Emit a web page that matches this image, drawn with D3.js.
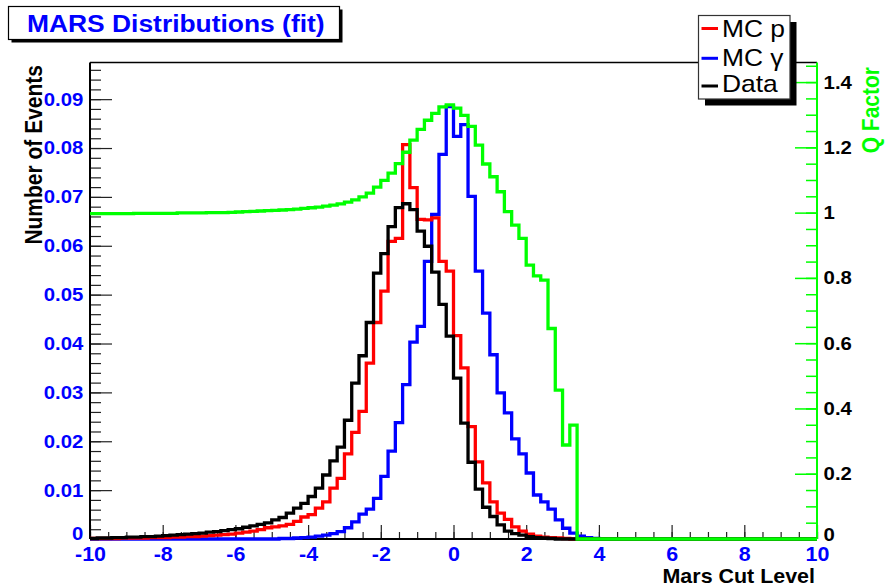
<!DOCTYPE html>
<html><head><meta charset="utf-8">
<script src="https://cdn.jsdelivr.net/npm/d3@7"></script>
<style>
body{margin:0;background:#fff}
svg{display:block}
text{font-family:"Liberation Sans",Arial,Helvetica,sans-serif}
</style>
</head><body>
<svg id="chart" width="886" height="588"></svg>
<script>
// ---------------- data ----------------
const binStart = -10, binWidth = 0.2, nBins = 100;

const mcP = [
0.0001,0.0001,0.0001,0.0001,0.0002,0.0002,0.0002,0.0002,0.0003,0.0003,
0.0003,0.0004,0.0004,0.0005,0.0005,0.0006,0.0007,0.0008,0.0009,0.0010,
0.0012,0.0014,0.0016,0.0019,0.0023,0.0025,0.0027,0.0030,0.0036,0.0045,
0.0050,0.0063,0.0076,0.0104,0.0124,0.0174,0.0218,0.0261,0.0360,0.0443,
0.0507,0.0609,0.0615,0.0807,0.0719,0.0654,0.0653,0.0657,0.0568,0.0548,
0.0416,0.0350,0.0230,0.0158,0.0115,0.0076,0.0053,0.0040,0.0025,0.0016,
0.0010,0.0006,0.0004,0.0003,0.0002,0.0001,0,0,0,0,
0,0,0,0,0,0,0,0,0,0,
0,0,0,0,0,0,0,0,0,0,
0,0,0,0,0,0,0,0,0,0];

const mcGamma = [
0,0,0,0,0,0,0,0,0,0,
0,0,0,0,0,0,0,0,0,0,
0,0,0,0,0,0,0.0001,0.0001,0.0002,0.0003,
0.0004,0.0006,0.0008,0.0011,0.0015,0.0023,0.0035,0.0051,0.0061,0.0083,
0.0128,0.0180,0.0238,0.0316,0.0403,0.0435,0.0568,0.0664,0.0787,0.0885,
0.0824,0.0848,0.0701,0.0548,0.0462,0.0377,0.0299,0.0258,0.0205,0.0174,
0.0135,0.0090,0.0076,0.0061,0.0039,0.0022,0.0012,0.0006,0.0003,0.0001,
0,0,0,0,0,0,0,0,0,0,
0,0,0,0,0,0,0,0,0,0,
0,0,0,0,0,0,0,0,0,0];

const dataEvents = [
0.0001,0.0002,0.0002,0.0003,0.0003,0.0004,0.0004,0.0005,0.0005,0.0006,
0.0007,0.0008,0.0009,0.0010,0.0011,0.0012,0.0014,0.0015,0.0017,0.0019,
0.0021,0.0024,0.0027,0.0030,0.0033,0.0039,0.0044,0.0053,0.0063,0.0073,
0.0087,0.0104,0.0131,0.0160,0.0188,0.0243,0.0319,0.0375,0.0443,0.0544,
0.0584,0.0639,0.0678,0.0686,0.0674,0.0630,0.0599,0.0546,0.0480,0.0415,
0.0329,0.0237,0.0157,0.0102,0.0065,0.0046,0.0029,0.0016,0.0011,0.0008,
0.0005,0.0003,0.0002,0.0001,0,0,0,0,0,0,
0,0,0,0,0,0,0,0,0,0,
0,0,0,0,0,0,0,0,0,0,
0,0,0,0,0,0,0,0,0,0];

const qFactor = [
0.997,0.997,0.997,0.997,0.997,0.997,0.998,0.998,0.998,0.998,
0.998,0.998,0.999,0.999,0.999,0.999,1.000,1.000,1.000,1.001,
1.002,1.003,1.004,1.005,1.006,1.007,1.008,1.009,1.011,1.013,
1.015,1.017,1.020,1.023,1.027,1.032,1.039,1.048,1.060,1.078,
1.099,1.121,1.150,1.185,1.222,1.255,1.283,1.304,1.324,1.330,
1.320,1.298,1.264,1.207,1.149,1.110,1.064,1.003,0.962,0.921,
0.839,0.806,0.793,0.645,0.456,0.288,0.349,0,0,0,
0,0,0,0,0,0,0,0,0,0,
0,0,0,0,0,0,0,0,0,0,
0,0,0,0,0,0,0,0,0,0];

const xTicks = [-10,-8,-6,-4,-2,0,2,4,6,8,10];
const yTicks = [0,0.01,0.02,0.03,0.04,0.05,0.06,0.07,0.08,0.09];
const qTicks = [0,0.2,0.4,0.6,0.8,1,1.2,1.4];
const legendLabels = ["MC p","MC \u03b3","Data"];
const titleText = "MARS Distributions (fit)";
const xTitle = "Mars Cut Level";
const yTitle = "Number of Events";
const qTitle = "Q Factor";

// ---------------- layout ----------------
const W = 886, H = 588;
const L = 90, R = 817, T = 62.5, B = 539;
const SX = 1.1; // horizontal text stretch
const cRed = "#ff0000", cBlue = "#0000ff", cBlack = "#000000", cGreen = "#00ff00";

const svg = d3.select("#chart");
svg.append("rect").attr("width", W).attr("height", H).attr("fill", "#fff");

const x = d3.scaleLinear().domain([-10, 10]).range([L, R]);
const y = d3.scaleLinear().domain([0, 0.0975]).range([B, T]);
const yQ = d3.scaleLinear().domain([0, 1.46]).range([B, T]);

// ---------------- axes ----------------
function styleAxis(g, color, tickW) {
  g.select(".domain").remove();
  g.selectAll(".tick line").attr("stroke", color).attr("stroke-width", tickW);
}
function labelStyle(sel, color, size) {
  sel.attr("fill", color).attr("font-size", size).attr("font-weight", "bold")
    .attr("font-family", "'Liberation Sans',Arial,sans-serif");
}

// left minor
const gLm = svg.append("g").attr("transform", `translate(${L},0)`)
  .call(d3.axisLeft(y).tickValues(d3.range(0, 0.0971, 0.002)).tickSizeInner(-11).tickSizeOuter(0).tickFormat(""));
styleAxis(gLm, "#222", 1.2);
// left major
const gL = svg.append("g").attr("transform", `translate(${L},0)`)
  .call(d3.axisLeft(y).tickValues(yTicks).tickSizeInner(-22).tickSizeOuter(0).tickPadding(6)
    .tickFormat(d => String(+d.toFixed(3))));
styleAxis(gL, "#222", 1.2);
labelStyle(gL.selectAll("text"), cBlue, 18.5);
gL.selectAll("text").attr("transform", d => d === 0 ? `translate(0,-5) scale(${SX},1)` : `scale(${SX},1)`);

// bottom minor
const gBm = svg.append("g").attr("transform", `translate(0,${B})`)
  .call(d3.axisBottom(x).tickValues(d3.range(-10, 10.01, 0.5)).tickSizeInner(-7).tickSizeOuter(0).tickFormat(""));
styleAxis(gBm, "#222", 1.2);
// bottom major
const gB = svg.append("g").attr("transform", `translate(0,${B})`)
  .call(d3.axisBottom(x).tickValues(xTicks).tickSizeInner(-14).tickSizeOuter(0).tickPadding(8)
    .tickFormat(d => String(d)));
styleAxis(gB, "#222", 1.2);
labelStyle(gB.selectAll("text"), cBlue, 19.5);
gB.selectAll("text").attr("transform", `scale(${SX},1)`);

// right minor
const gRm = svg.append("g").attr("transform", `translate(${R},0)`)
  .call(d3.axisRight(yQ).tickValues(d3.range(0, 1.451, 0.05)).tickSizeInner(-11).tickSizeOuter(0).tickFormat(""));
styleAxis(gRm, cGreen, 1.5);
// right major
const gR = svg.append("g").attr("transform", `translate(${R},0)`)
  .call(d3.axisRight(yQ).tickValues(qTicks).tickSizeInner(-22).tickSizeOuter(0).tickPadding(6)
    .tickFormat(d => String(+d.toFixed(2))));
styleAxis(gR, cGreen, 1.5);
labelStyle(gR.selectAll("text"), "#000", 18.5);
gR.selectAll("text").attr("transform", d => d === 0 ? `translate(0,-4) scale(${SX},1)` : `scale(${SX},1)`);

// frame lines
svg.append("line").attr("x1", L).attr("x2", R).attr("y1", T).attr("y2", T).attr("stroke", "#000").attr("stroke-width", 1.5);
svg.append("line").attr("x1", L).attr("x2", L).attr("y1", T).attr("y2", B).attr("stroke", "#000").attr("stroke-width", 2);
svg.append("line").attr("x1", L).attr("x2", R).attr("y1", B).attr("y2", B).attr("stroke", "#000").attr("stroke-width", 2);
svg.append("line").attr("x1", R).attr("x2", R).attr("y1", T).attr("y2", B).attr("stroke", cGreen).attr("stroke-width", 2);

// ---------------- histograms ----------------
function histPoints(vals) {
  const pts = vals.map((v, i) => [binStart + i * binWidth, v]);
  pts.push([binStart + nBins * binWidth, vals[vals.length - 1]]);
  return pts;
}
function drawHist(vals, yScale, color) {
  const line = d3.line().x(d => x(d[0])).y(d => yScale(d[1])).curve(d3.curveStepAfter);
  svg.append("path").attr("d", line(histPoints(vals)))
    .attr("fill", "none").attr("stroke", color).attr("stroke-width", 3.3)
    .attr("stroke-linejoin", "miter").attr("stroke-linecap", "butt");
}
drawHist(mcGamma, y, cBlue);
drawHist(mcP, y, cRed);
drawHist(dataEvents, y, cBlack);
drawHist(qFactor, yQ, cGreen);

// ---------------- titles ----------------
svg.append("text").text(xTitle)
  .attr("transform", `translate(815,582.5) scale(${SX},1)`)
  .attr("text-anchor", "end").attr("font-size", 19.5).attr("font-weight", "bold").attr("fill", "#000");

svg.append("text").text(yTitle)
  .attr("transform", `translate(41.5,65) scale(${SX},1) rotate(-90)`)
  .attr("text-anchor", "end").attr("font-size", 21).attr("font-weight", "bold").attr("fill", "#000");

svg.append("text").text(qTitle)
  .attr("transform", `translate(879,67) scale(${SX},1) rotate(-90)`)
  .attr("text-anchor", "end").attr("font-size", 21).attr("font-weight", "bold").attr("fill", cGreen);

// ---------------- title box ----------------
const tb = {x: 8.5, y: 6.5, w: 331, h: 33, sh: 3};
svg.append("rect").attr("x", tb.x + tb.sh).attr("y", tb.y + tb.sh).attr("width", tb.w).attr("height", tb.h).attr("fill", "#000");
svg.append("rect").attr("x", tb.x).attr("y", tb.y).attr("width", tb.w).attr("height", tb.h)
  .attr("fill", "#fff").attr("stroke", "#000").attr("stroke-width", 1.2);
svg.append("text").text(titleText)
  .attr("transform", `translate(27,32) scale(${SX},1)`)
  .attr("font-size", 24).attr("font-weight", "bold").attr("fill", cBlue);

// ---------------- legend ----------------
const lg = {x: 698.5, y: 15.5, w: 91.5, h: 83.5, sh: 6.5};
svg.append("rect").attr("x", lg.x + lg.sh).attr("y", lg.y + lg.sh).attr("width", lg.w).attr("height", lg.h).attr("fill", "#000");
svg.append("rect").attr("x", lg.x).attr("y", lg.y).attr("width", lg.w).attr("height", lg.h)
  .attr("fill", "#fff").attr("stroke", "#333").attr("stroke-width", 1.2);
const legColors = [cRed, cBlue, cBlack];
const legLineY = [28.5, 58.3, 86];
const legTextY = [37.3, 65.5, 92];
legendLabels.forEach((lab, i) => {
  svg.append("line").attr("x1", 701.5).attr("x2", 718).attr("y1", legLineY[i]).attr("y2", legLineY[i])
    .attr("stroke", legColors[i]).attr("stroke-width", 3);
  svg.append("text").text(lab)
    .attr("transform", `translate(722,${legTextY[i]}) scale(${SX},1)`)
    .attr("font-size", 24).attr("fill", "#000");
});
</script>
</body></html>
